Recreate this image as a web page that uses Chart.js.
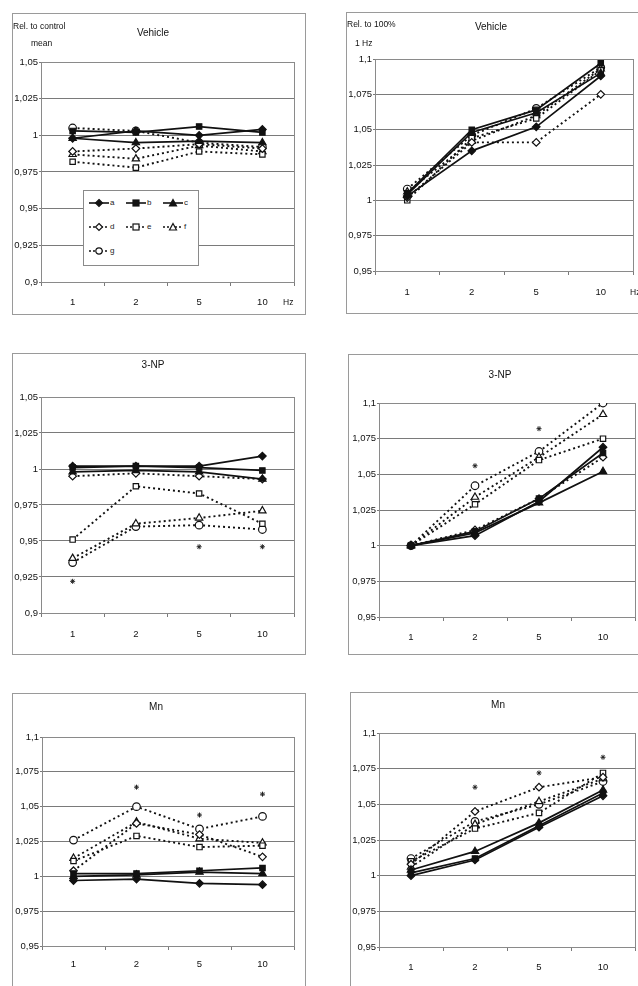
<!DOCTYPE html>
<html>
<head>
<meta charset="utf-8">
<script src="https://cdn.jsdelivr.net/npm/chart.js@4"></script>
<style>
body{margin:0;width:638px;height:986px;overflow:hidden;background:#fff;position:relative;
  font-family:'Liberation Sans',Arial,sans-serif;color:#111}
.box{position:absolute;border:1px solid #9a9a9a;background:#fff}
.box canvas{position:absolute;left:0;top:0}
.txt{position:absolute;font-size:8.5px;line-height:1;white-space:nowrap;color:#111}
.ttl{position:absolute;font-size:10px;line-height:1;white-space:nowrap;transform:translate(-50%,-50%);color:#111}
#legend{position:absolute;left:83px;top:190px;width:114px;height:74px;border:1px solid #8a8a8a;background:#fff;transform:translateZ(0)}
.lg{position:absolute;font-size:8px;line-height:1;display:flex;align-items:center;gap:1px;color:#222;opacity:0.99}
</style>
</head>
<body>
<script>
// frequencies on the x axis
const hz = ['1', '2', '5', '10'];
const series = ['a', 'b', 'c', 'd', 'e', 'f', 'g'];
const markers = ['rectRot', 'rect', 'triangle', 'rectRot', 'rect', 'triangle', 'circle'];

// Vehicle, relative to control mean
const vehicleCtrl = [
  [0.998, 1.003, 1.000, 1.004],
  [1.003, 1.002, 1.006, 1.002],
  [0.998, 0.995, 0.996, 0.995],
  [0.989, 0.991, 0.994, 0.991],
  [0.982, 0.978, 0.989, 0.987],
  [0.987, 0.984, 0.993, 0.989],
  [1.005, 1.003, 0.995, 0.992]
];
// Vehicle, relative to 100% 1 Hz
const vehicle1Hz = [
  [1.003, 1.035, 1.052, 1.088],
  [1.005, 1.050, 1.064, 1.097],
  [1.004, 1.048, 1.062, 1.090],
  [1.002, 1.041, 1.041, 1.075],
  [1.000, 1.044, 1.058, 1.092],
  [1.006, 1.042, 1.060, 1.093],
  [1.008, 1.046, 1.065, 1.094]
];
// 3-NP
const npCtrl = [
  [1.002, 1.002, 1.002, 1.009],
  [1.001, 1.002, 1.001, 0.999],
  [0.998, 0.999, 0.998, 0.993],
  [0.995, 0.997, 0.995, 0.993],
  [0.951, 0.988, 0.983, 0.962],
  [0.938, 0.962, 0.966, 0.971],
  [0.935, 0.960, 0.961, 0.958]
];
const npCtrlStars = [0.922, null, 0.946, 0.946];
const np1Hz = [
  [1.000, 1.007, 1.031, 1.069],
  [1.000, 1.010, 1.033, 1.065],
  [1.000, 1.009, 1.030, 1.052],
  [1.000, 1.011, 1.033, 1.062],
  [1.000, 1.029, 1.060, 1.075],
  [1.000, 1.034, 1.062, 1.092],
  [1.000, 1.042, 1.066, 1.100]
];
const np1HzStars = [null, 1.056, 1.082, 1.109];
// Mn
const mnCtrl = [
  [0.997, 0.998, 0.995, 0.994],
  [1.002, 1.002, 1.004, 1.006],
  [1.000, 1.001, 1.003, 1.002],
  [1.004, 1.038, 1.030, 1.014],
  [1.011, 1.029, 1.021, 1.022],
  [1.013, 1.039, 1.027, 1.024],
  [1.026, 1.050, 1.034, 1.043]
];
const mnCtrlStars = [null, 1.064, 1.044, 1.059];
const mn1Hz = [
  [1.000, 1.011, 1.034, 1.056],
  [1.002, 1.012, 1.035, 1.058],
  [1.004, 1.017, 1.037, 1.060],
  [1.008, 1.045, 1.062, 1.069],
  [1.010, 1.033, 1.044, 1.072],
  [1.006, 1.036, 1.052, 1.068],
  [1.012, 1.038, 1.050, 1.066]
];
const mn1HzStars = [null, 1.062, 1.072, 1.083];

const panels = [
  {title: 'Vehicle', rows: vehicleCtrl, stars: null, min: 0.9, max: 1.05,
   box: {l: 12, t: 13, w: 292, h: 300}, plot: {l: 41, t: 62, r: 294, b: 282}, tx: 153, ty: 33, pad: 11},
  {title: 'Vehicle', rows: vehicle1Hz, stars: null, min: 0.95, max: 1.1,
   box: {l: 346, t: 12, w: 300, h: 300}, plot: {l: 375, t: 59, r: 633, b: 271}, tx: 491, ty: 27, pad: 12},
  {title: '3-NP', rows: npCtrl, stars: npCtrlStars, min: 0.9, max: 1.05,
   box: {l: 12, t: 353, w: 292, h: 300}, plot: {l: 41, t: 397, r: 294, b: 613}, tx: 153, ty: 365, pad: 12},
  {title: '3-NP', rows: np1Hz, stars: np1HzStars, min: 0.95, max: 1.1,
   box: {l: 348, t: 354, w: 300, h: 299}, plot: {l: 379, t: 403, r: 635, b: 617}, tx: 500, ty: 375, pad: 11},
  {title: 'Mn', rows: mnCtrl, stars: mnCtrlStars, min: 0.95, max: 1.1,
   box: {l: 12, t: 693, w: 292, h: 300}, plot: {l: 42, t: 737, r: 294, b: 946}, tx: 156, ty: 707, pad: 9},
  {title: 'Mn', rows: mn1Hz, stars: mn1HzStars, min: 0.95, max: 1.1,
   box: {l: 350, t: 692, w: 300, h: 300}, plot: {l: 379, t: 733, r: 635, b: 947}, tx: 498, ty: 705, pad: 11}
];

Chart.defaults.font.family = "'Liberation Sans',Arial,sans-serif";
Chart.defaults.font.size = 9.5;
Chart.defaults.color = '#111';

const frame = {
  id: 'frame',
  beforeDatasetsDraw(chart) {
    const a = chart.chartArea, c = chart.ctx;
    c.save();
    c.strokeStyle = '#8a8a8a';
    c.lineWidth = 1;
    c.strokeRect(Math.round(a.left) + 0.5, Math.round(a.top) + 0.5, Math.round(a.right - a.left), Math.round(a.bottom - a.top));
    c.restore();
  }
};

function fmt(v) { return String(+v.toFixed(3)).replace('.', ','); }

function makeDatasets(rows, stars) {
  const ds = rows.map((vals, i) => ({
    label: series[i],
    data: vals,
    borderColor: '#111',
    borderWidth: i < 3 ? 1.7 : 1.9,
    borderDash: i < 3 ? [] : [2, 3],
    pointStyle: markers[i],
    pointRadius: markers[i] === 'triangle' ? 4.2 : 3.8,
    pointBackgroundColor: i < 3 ? '#111' : '#fff',
    pointBorderColor: '#111',
    pointBorderWidth: 1.2,
    tension: 0
  }));
  if (stars) {
    ds.push({label: '*', data: stars, showLine: false, pointStyle: 'star', pointRadius: 2.5,
      borderColor: '#222', pointBorderWidth: 1, clip: false});
  }
  return ds;
}

panels.forEach(p => {
  const box = document.createElement('div');
  box.className = 'box';
  Object.assign(box.style, {left: p.box.l + 'px', top: p.box.t + 'px', width: p.box.w + 'px', height: p.box.h + 'px'});
  const cv = document.createElement('canvas');
  cv.width = p.box.w; cv.height = p.box.h;
  box.appendChild(cv);
  document.body.appendChild(box);

  const ox = p.box.l + 1, oy = p.box.t + 1;
  new Chart(cv, {
    type: 'line',
    data: {labels: hz, datasets: makeDatasets(p.rows, p.stars)},
    options: {
      responsive: false,
      animation: false,
      events: [],
      layout: {padding: {top: p.plot.t - oy, right: ox + p.box.w - p.plot.r, left: 0, bottom: 0}},
      plugins: {legend: {display: false}, tooltip: {enabled: false}},
      scales: {
        x: {
          offset: true,
          grid: {offset: true, drawOnChartArea: false, tickLength: 4, color: '#7a7a7a'},
          border: {display: false},
          ticks: {padding: p.pad, color: '#111'},
          afterFit: s => { s.height = oy + p.box.h - p.plot.b; }
        },
        y: {
          min: p.min, max: p.max,
          grid: {color: '#7a7a7a', tickLength: 2},
          border: {display: false},
          ticks: {stepSize: 0.025, padding: 1, callback: v => fmt(v), color: '#111'},
          afterFit: s => { s.width = p.plot.l - ox; }
        }
      }
    },
    plugins: [frame]
  });

  const t = document.createElement('div');
  t.className = 'ttl';
  t.textContent = p.title;
  t.style.left = p.tx + 'px'; t.style.top = p.ty + 'px';
  document.body.appendChild(t);
});

// axis captions
[
  ['Rel. to control', 13, 22], ['mean', 31, 39],
  ['Rel. to 100%', 347, 20], ['1 Hz', 355, 39],
  ['Hz', 283, 298], ['Hz', 630, 288]
].forEach(([s, x, y]) => {
  const d = document.createElement('div');
  d.className = 'txt';
  d.textContent = s;
  d.style.left = x + 'px'; d.style.top = y + 'px';
  document.body.appendChild(d);
});

// legend inside the first panel
const legend = document.createElement('div');
legend.id = 'legend';
document.body.appendChild(legend);
function markerSvg(i) {
  const fill = i < 3 ? '#111' : '#fff';
  const dash = i < 3 ? '' : 'stroke-dasharray="2,2"';
  let m;
  if (markers[i] === 'rectRot') m = `<polygon points="10,1.5 13.5,5 10,8.5 6.5,5" fill="${fill}" stroke="#111" stroke-width="1.2"/>`;
  else if (markers[i] === 'rect') m = `<rect x="7" y="2" width="6" height="6" fill="${fill}" stroke="#111" stroke-width="1.2"/>`;
  else if (markers[i] === 'triangle') m = `<polygon points="10,1.5 13.5,8 6.5,8" fill="${fill}" stroke="#111" stroke-width="1.2"/>`;
  else m = `<circle cx="10" cy="5" r="3.2" fill="${fill}" stroke="#111" stroke-width="1.2"/>`;
  return `<svg width="20" height="10"><line x1="0" y1="5" x2="20" y2="5" stroke="#111" stroke-width="1.6" ${dash}/>${m}</svg>`;
}
series.forEach((s, i) => {
  const e = document.createElement('div');
  e.className = 'lg';
  e.style.left = (5 + (i % 3) * 37) + 'px';
  e.style.top = (7 + Math.floor(i / 3) * 24) + 'px';
  e.innerHTML = markerSvg(i) + '<span>' + s + '</span>';
  legend.appendChild(e);
});
</script>
</body>
</html>
